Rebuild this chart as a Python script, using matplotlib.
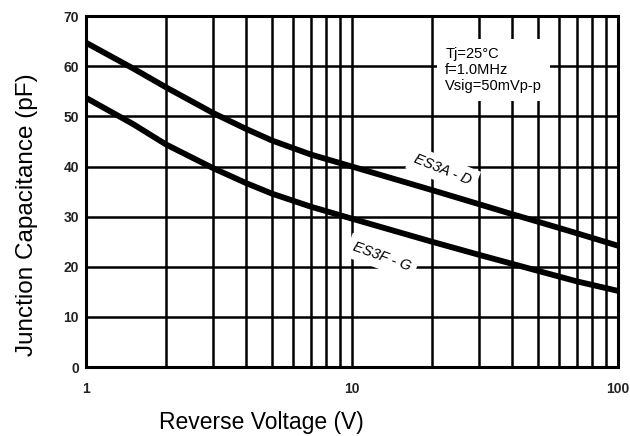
import numpy as np
import matplotlib.pyplot as plt

plt.rcParams['font.family'] = ['Liberation Sans', 'DejaVu Sans']

voltage = [1, 1.5, 2, 3, 4, 5, 7, 10, 20, 30, 40, 50, 70, 100]
es3a_d = [64.7, 59.6, 55.8, 50.7, 47.5, 45.2, 42.4, 40.0, 35.3, 32.5, 30.5, 29.0, 26.7, 24.2]
es3f_g = [53.7, 48.5, 44.4, 39.7, 36.7, 34.6, 32.0, 29.6, 25.0, 22.4, 20.6, 19.2, 17.1, 15.2]

x_ticks = [1, 10, 100]
x_tick_labels = ["1", "10", "100"]
y_ticks = [0, 10, 20, 30, 40, 50, 60, 70]
conditions = "Tj=25\u00b0C\nf=1.0MHz\nVsig=50mVp-p"

fig = plt.figure(figsize=(6.3, 4.36), dpi=100)
ax = fig.add_axes([0.1365, 0.158, 0.8445, 0.805])

ax.set_xscale('log')
ax.set_xlim(1, 100)
ax.set_ylim(0, 70)

# grid: log minor lines on x, every 10 pF on y
minor_x = [m * d for d in (1, 10) for m in range(2, 10)]
for xv in minor_x + [10]:
    ax.axvline(xv, color='black', lw=1.8, zorder=1)
for yv in y_ticks[1:-1]:
    ax.axhline(yv, color='black', lw=1.8, zorder=1)

ax.plot(voltage, es3a_d, color='black', lw=4.2, solid_capstyle='butt', zorder=3)
ax.plot(voltage, es3f_g, color='black', lw=4.2, solid_capstyle='butt', zorder=3)

box = dict(facecolor='white', edgecolor='none', pad=4)
ax.text(22.0, 39.3, "ES3A - D", rotation=-22, ha='center', va='center',
        fontsize=10.5, style='italic', bbox=box, zorder=4)
ax.text(13.0, 22.0, "ES3F - G", rotation=-20, ha='center', va='center',
        fontsize=10.5, style='italic', bbox=box, zorder=4)
ax.text(22.4, 63.8, conditions, ha='left', va='top', fontsize=10.5,
        linespacing=1.15, bbox=dict(facecolor='white', edgecolor='none', pad=6),
        zorder=4)

ax.set_xticks(x_ticks)
ax.set_xticklabels(x_tick_labels)
ax.xaxis.set_minor_locator(plt.NullLocator())
ax.set_yticks(y_ticks)
ax.tick_params(length=0, labelsize=10, colors='#222222')
ax.tick_params(axis='x', pad=11)
ax.tick_params(axis='y', pad=5)
for lab in ax.get_xticklabels() + ax.get_yticklabels():
    lab.set_fontweight('bold')

for sp in ax.spines.values():
    sp.set_linewidth(2.2)
    sp.set_zorder(5)

fig.text(0.415, 0.032, "Reverse Voltage (V)", fontsize=16.5, ha='center', va='center')
fig.text(0.043, 0.507, "Junction Capacitance (pF)", fontsize=17.5, rotation=90,
         ha='center', va='center')

fig.savefig("out.png", dpi=100)
